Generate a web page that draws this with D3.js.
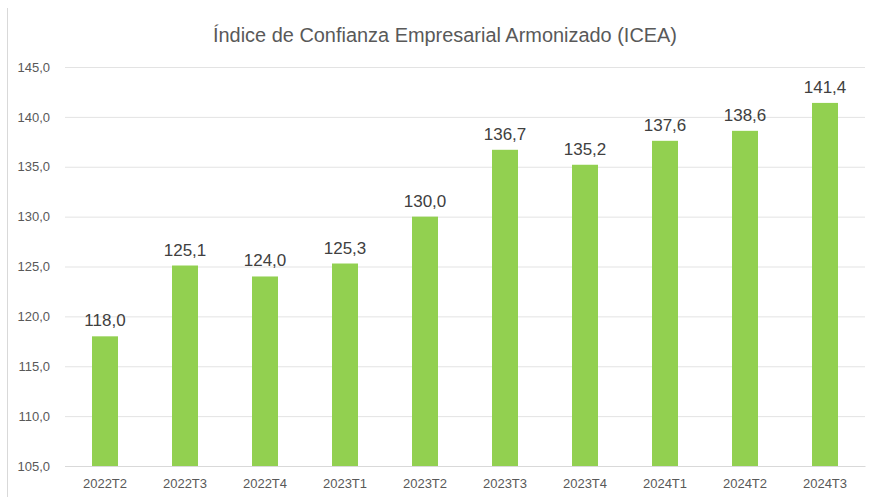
<!DOCTYPE html>
<html lang="es">
<head>
<meta charset="UTF-8">
<title>ICEA</title>
<script src="https://d3js.org/d3.v7.min.js"></script>
<style>
  body { margin: 0; background: #fff; font-family: "Liberation Sans", Arial, sans-serif; }
  .tick text { fill: #595959; font-size: 13px; }
  .title { font-size: 20px; fill: #595959; }
  .data-label { font-size: 17px; fill: #404040; text-anchor: middle; }
</style>
</head>
<body>
<div id="chart"></div>
<script>
  const categories = ["2022T2", "2022T3", "2022T4", "2023T1", "2023T2", "2023T3", "2023T4", "2024T1", "2024T2", "2024T3"];
  const values = [118.0, 125.1, 124.0, 125.3, 130.0, 136.7, 135.2, 137.6, 138.6, 141.4];
  const yTicks = [105, 110, 115, 120, 125, 130, 135, 140, 145];

  const W = 874, H = 497;
  const margin = {top: 67, right: 9, bottom: 31, left: 65};
  const width = W - margin.left - margin.right;
  const height = H - margin.top - margin.bottom;
  const fmt = v => v.toFixed(1).replace(".", ",");

  const svg = d3.select("#chart").append("svg")
      .attr("width", W).attr("height", H);

  // frame edge on the left
  svg.append("line")
      .attr("x1", 7.5).attr("x2", 7.5).attr("y1", 8).attr("y2", H)
      .attr("stroke", "#d9d9d9");

  svg.append("text")
      .attr("class", "title")
      .attr("x", 445).attr("y", 42)
      .attr("text-anchor", "middle")
      .attr("textLength", 464)
      .attr("lengthAdjust", "spacingAndGlyphs")
      .text("Índice de Confianza Empresarial Armonizado (ICEA)");

  const g = svg.append("g").attr("transform", `translate(${margin.left},${margin.top})`);

  const x = d3.scaleBand().domain(categories).range([0, width]).paddingInner(0.675).paddingOuter(0.3375);
  const y = d3.scaleLinear().domain([105, 145]).range([height, 0]);

  // gridlines + y labels
  const yAxis = g.append("g")
      .call(d3.axisLeft(y).tickValues(yTicks).tickSize(-width).tickFormat(fmt));
  yAxis.select(".domain").remove();
  yAxis.selectAll(".tick line").attr("stroke", d => d === 105 ? "#d9d9d9" : "#e3e3e3");
  yAxis.selectAll(".tick text").attr("x", -15).attr("dx", 0);

  g.selectAll(".bar")
      .data(values)
      .enter().append("rect")
      .attr("class", "bar")
      .attr("x", (d, i) => x(categories[i]))
      .attr("y", d => y(d))
      .attr("width", x.bandwidth())
      .attr("height", d => height - y(d))
      .attr("fill", "#92d050");

  g.selectAll(".data-label")
      .data(values)
      .enter().append("text")
      .attr("class", "data-label")
      .attr("x", (d, i) => x(categories[i]) + x.bandwidth() / 2)
      .attr("y", d => y(d) - 10)
      .text(fmt);

  const xAxis = g.append("g")
      .attr("transform", `translate(0,${height})`)
      .call(d3.axisBottom(x).tickSize(0).tickPadding(13));
  xAxis.select(".domain").attr("stroke", "#d9d9d9");
</script>
</body>
</html>
